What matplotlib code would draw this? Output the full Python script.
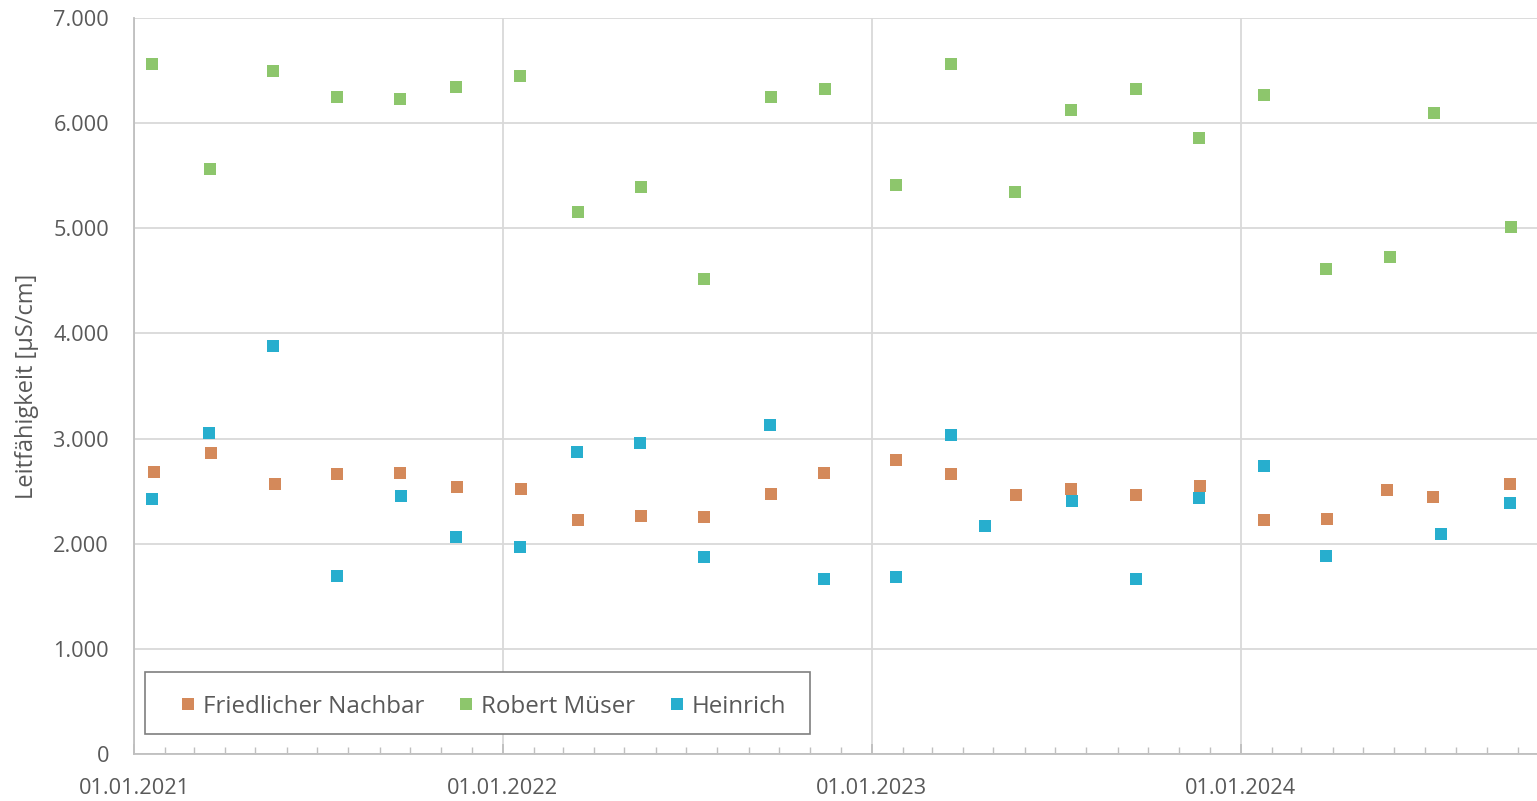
import matplotlib.pyplot as plt
import matplotlib.dates as mdates
import matplotlib.ticker as mticker
from matplotlib.patches import Rectangle
import pandas as pd

plt.rcParams['font.family'] = ['Open Sans', 'DejaVu Sans']

# Messwerte Leitfähigkeit [µS/cm]
nachbar_dates = ['2021-01-21', '2021-03-18', '2021-05-20', '2021-07-21', '2021-09-21', '2021-11-17',
                 '2022-01-19', '2022-03-16', '2022-05-18', '2022-07-19', '2022-09-23', '2022-11-15',
                 '2023-01-25', '2023-03-20', '2023-05-24', '2023-07-17', '2023-09-19', '2023-11-22',
                 '2024-01-24', '2024-03-26', '2024-05-25', '2024-07-09', '2024-09-23']
nachbar_vals = [2682, 2863, 2568, 2663, 2673, 2540, 2520, 2226, 2264, 2254, 2473, 2673,
                2796, 2663, 2463, 2520, 2463, 2549, 2226, 2235, 2511, 2444, 2568]

mueser_dates = ['2021-01-19', '2021-03-17', '2021-05-18', '2021-07-21', '2021-09-21', '2021-11-16',
                '2022-01-18', '2022-03-16', '2022-05-18', '2022-07-19', '2022-09-23', '2022-11-16',
                '2023-01-25', '2023-03-20', '2023-05-23', '2023-07-17', '2023-09-19', '2023-11-21',
                '2024-01-24', '2024-03-25', '2024-05-28', '2024-07-10', '2024-09-24']
mueser_vals = [6563, 5564, 6496, 6249, 6230, 6344, 6449, 5155, 5393, 4518, 6249, 6325,
               5412, 6563, 5345, 6125, 6325, 5859, 6268, 4613, 4727, 6097, 5012]

heinrich_dates = ['2021-01-19', '2021-03-16', '2021-05-18', '2021-07-21', '2021-09-22', '2021-11-16',
                  '2022-01-18', '2022-03-15', '2022-05-17', '2022-07-19', '2022-09-22', '2022-11-15',
                  '2023-01-25', '2023-03-20', '2023-04-23', '2023-07-18', '2023-09-19', '2023-11-21',
                  '2024-01-24', '2024-03-25', '2024-07-17', '2024-09-23']
heinrich_vals = [2425, 3053, 3880, 1693, 2454, 2064, 1969, 2872, 2958, 1874, 3129, 1664,
                 1683, 3034, 2169, 2406, 1664, 2435, 2739, 1883, 2092, 2387]

fig = plt.figure(figsize=(15.37, 8.01), dpi=100)
ax = fig.add_axes([0.0872, 0.0587, 0.9128, 0.9188])

ms = 9.3
ax.plot(pd.to_datetime(nachbar_dates), nachbar_vals, 's', color='#D4895A', ms=ms, mew=0,
        label='Friedlicher Nachbar', zorder=3)
ax.plot(pd.to_datetime(mueser_dates), mueser_vals, 's', color='#8DC66C', ms=ms, mew=0,
        label='Robert Müser', zorder=3)
ax.plot(pd.to_datetime(heinrich_dates), heinrich_vals, 's', color='#27AECE', ms=ms, mew=0,
        label='Heinrich', zorder=3)

ax.set_ylim(0, 7000)
ax.set_xlim(pd.Timestamp('2021-01-01'), pd.Timestamp('2024-10-20'))

ax.yaxis.set_major_locator(mticker.MultipleLocator(1000))
ax.yaxis.set_major_formatter(mticker.FuncFormatter(lambda v, p: f'{int(v):,}'.replace(',', '.')))
ax.xaxis.set_major_locator(mdates.YearLocator())
ax.xaxis.set_major_formatter(mdates.DateFormatter('%d.%m.%Y'))
ax.xaxis.set_minor_locator(mdates.MonthLocator())

ax.grid(True, which='major', color='#D9D9D9', linewidth=1.3)
ax.set_axisbelow(True)
for s in ['top', 'right']:
    ax.spines[s].set_visible(False)
for s in ['left', 'bottom']:
    ax.spines[s].set_color('#BFBFBF')
    ax.spines[s].set_linewidth(1.3)

ax.tick_params(axis='y', length=0, pad=18, labelsize=15.7, labelcolor='#595959')
ax.tick_params(axis='x', which='major', direction='in', length=7, width=1.3, color='#BFBFBF',
               pad=17, labelsize=15.7, labelcolor='#595959')
ax.tick_params(axis='x', which='minor', direction='in', length=5, width=1, color='#BFBFBF')

ax.set_ylabel('Leitfähigkeit [µS/cm]', fontsize=17, color='#595959', labelpad=10)

# Legendenrahmen (weiß gefüllt, verdeckt das Gitter)
frame = Rectangle((0.00784, 0.0272), 0.474, 0.0842, transform=ax.transAxes,
                  facecolor='white', edgecolor='#7F7F7F', linewidth=1.2, zorder=4)
ax.add_patch(frame)

leg = ax.legend(loc='center left', bbox_to_anchor=(0.0315, 0.0640), ncol=3, fontsize=17.4,
                frameon=False, handlelength=0.8, handletextpad=0.22, columnspacing=1.33,
                borderpad=0, borderaxespad=0, markerscale=0.93)
leg.set_zorder(5)
for t in leg.get_texts():
    t.set_color('#595959')

fig.savefig('out.png', dpi=100)
